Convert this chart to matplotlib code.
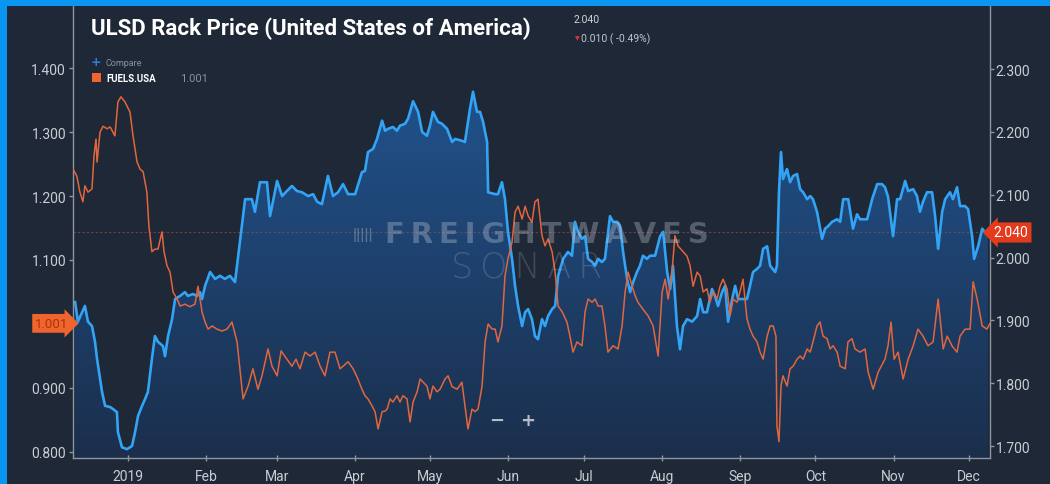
import numpy as np
import pandas as pd
import matplotlib
matplotlib.use("Agg")
import matplotlib.pyplot as plt
import matplotlib.dates as mdates
import matplotlib.transforms as mtransforms
from matplotlib.colors import LinearSegmentedColormap
from matplotlib.patches import Rectangle

# --- Data (day offsets from 2019-01-01) ---
blue_day = [-21.0, -19.9, -17.1, -15.9, -14.3, -13.1, -12.3, -11.1, -10.3, -9.1,
            -7.1, -6.0, -4.4, -4.0, -2.4, -0.4, 1.6, 2.8, 4.0, 5.6,
            6.8, 7.9, 9.5, 10.7, 11.9, 13.9, 14.7, 15.9, 17.5, 18.7,
            20.7, 22.6, 23.8, 25.8, 27.4, 28.6, 29.4, 30.6, 32.6, 34.6,
            36.5, 38.5, 40.5, 42.5, 46.5, 49.2, 50.4, 52.4, 55.2, 56.4,
            59.2, 61.2, 63.1, 65.1, 67.1, 69.1, 71.5, 73.5, 75.1, 77.0,
            79.4, 81.4, 83.4, 85.4, 87.4, 90.2, 92.9, 94.1, 95.3, 97.3,
            98.9, 100.9, 102.1, 103.3, 105.2, 106.8, 108.0, 110.0, 111.2, 113.2,
            115.2, 116.8, 118.7, 119.9, 121.1, 123.1, 124.7, 126.7, 128.7, 129.9,
            132.6, 133.8, 135.8, 137.0, 138.6, 139.8, 141.0, 142.6, 143.0, 145.8,
            146.9, 148.5, 149.7, 150.9, 152.5, 153.7, 154.9, 156.5, 157.7, 158.9,
            160.4, 161.6, 162.8, 164.4, 165.6, 166.8, 168.4, 169.6, 170.8, 172.8,
            174.7, 176.3, 177.5, 178.7, 180.3, 181.5, 182.7, 184.3, 185.5, 186.7,
            188.2, 189.4, 191.4, 192.6, 194.2, 195.4, 196.6, 198.2, 199.4, 200.6,
            202.1, 203.3, 204.5, 206.1, 207.3, 209.3, 211.3, 212.5, 214.1, 215.3,
            216.4, 218.0, 219.2, 220.4, 222.0, 224.0, 226.0, 227.2, 228.4, 229.9,
            231.9, 233.1, 234.3, 235.9, 237.1, 238.3, 239.9, 241.1, 242.3, 245.8,
            247.0, 248.2, 249.8, 251.0, 252.2, 253.8, 255.0, 257.0, 257.7, 258.5,
            259.3, 260.1, 261.7, 262.9, 264.1, 265.7, 266.9, 268.1, 269.7, 270.9,
            272.0, 273.6, 275.6, 276.8, 278.0, 279.6, 281.6, 282.8, 284.0, 286.0,
            287.9, 289.5, 290.7, 293.5, 295.5, 297.5, 299.4, 300.6, 301.8, 303.8,
            305.4, 306.6, 308.6, 309.8, 311.8, 313.3, 314.5, 315.7, 317.3, 319.3,
            320.5, 321.7, 323.3, 324.5, 326.4, 327.6, 329.2, 330.4, 332.4, 333.6,
            335.2, 336.0, 337.6, 339.2, 340.4, 341.5]
blue_val = [1.929, 1.898, 1.923, 1.898, 1.891, 1.866, 1.839, 1.807, 1.786, 1.764,
            1.762, 1.759, 1.754, 1.722, 1.698, 1.695, 1.700, 1.722, 1.748, 1.764,
            1.775, 1.786, 1.839, 1.875, 1.866, 1.859, 1.843, 1.875, 1.902, 1.934,
            1.939, 1.945, 1.939, 1.942, 1.939, 1.945, 1.934, 1.955, 1.977, 1.966,
            1.971, 1.966, 1.971, 1.961, 2.093, 2.093, 2.073, 2.120, 2.120, 2.066,
            2.122, 2.098, 2.106, 2.114, 2.106, 2.104, 2.098, 2.101, 2.089, 2.085,
            2.130, 2.098, 2.104, 2.117, 2.101, 2.101, 2.136, 2.138, 2.168, 2.173,
            2.189, 2.218, 2.202, 2.205, 2.208, 2.202, 2.210, 2.213, 2.221, 2.249,
            2.232, 2.200, 2.194, 2.210, 2.232, 2.216, 2.213, 2.205, 2.184, 2.189,
            2.186, 2.184, 2.237, 2.264, 2.232, 2.232, 2.216, 2.184, 2.104, 2.101,
            2.101, 2.120, 2.093, 2.041, 1.998, 1.955, 1.923, 1.891, 1.913, 1.918,
            1.902, 1.875, 1.870, 1.902, 1.891, 1.907, 1.918, 1.923, 1.971, 1.998,
            2.009, 2.003, 2.057, 2.041, 2.030, 2.034, 1.998, 1.993, 1.987, 1.998,
            1.993, 1.998, 2.066, 2.057, 2.057, 2.050, 2.009, 1.966, 1.945, 1.961,
            1.977, 1.987, 2.003, 1.998, 2.003, 2.003, 2.034, 2.041, 1.977, 1.950,
            1.987, 1.891, 1.854, 1.891, 1.902, 1.898, 1.907, 1.934, 1.913, 1.913,
            1.950, 1.939, 1.923, 1.945, 1.955, 1.898, 1.934, 1.955, 1.934, 1.934,
            1.955, 1.977, 1.982, 1.987, 2.014, 2.018, 1.987, 1.977, 1.987, 2.104,
            2.168, 2.125, 2.141, 2.120, 2.130, 2.133, 2.109, 2.104, 2.093, 2.098,
            2.093, 2.073, 2.030, 2.046, 2.050, 2.057, 2.061, 2.057, 2.093, 2.093,
            2.046, 2.069, 2.061, 2.061, 2.093, 2.117, 2.117, 2.112, 2.097, 2.034,
            2.093, 2.093, 2.122, 2.106, 2.109, 2.098, 2.073, 2.089, 2.104, 2.104,
            2.066, 2.014, 2.073, 2.093, 2.104, 2.093, 2.112, 2.082, 2.082, 2.077,
            2.034, 1.998, 2.018, 2.046, 2.040, 2.040]

orange_day = [-21.8, -20.3, -19.1, -17.9, -17.1, -15.9, -14.3, -13.5, -12.7, -12.3,
              -11.1, -9.9, -8.3, -7.1, -5.2, -4.0, -2.8, -1.2, 0.8, 2.0,
              3.6, 4.8, 6.0, 7.5, 8.3, 9.5, 10.7, 11.9, 13.5, 14.3,
              15.5, 16.7, 17.9, 19.5, 20.7, 22.6, 24.6, 26.6, 27.8, 29.4,
              30.6, 31.8, 33.4, 35.3, 37.3, 39.3, 41.3, 43.3, 45.7, 47.7,
              49.6, 51.6, 53.2, 55.6, 57.2, 59.2, 60.8, 63.1, 65.1, 66.7,
              68.3, 70.3, 72.3, 74.3, 76.3, 78.2, 80.2, 82.2, 84.2, 85.4,
              87.4, 89.4, 91.3, 92.9, 94.1, 95.3, 96.9, 98.1, 99.3, 100.9,
              102.1, 102.9, 104.1, 105.2, 106.8, 108.0, 109.2, 110.8, 112.0, 113.2,
              114.8, 116.0, 117.2, 118.7, 119.9, 121.1, 122.7, 123.9, 125.9, 127.1,
              128.7, 130.7, 132.6, 133.8, 135.0, 136.6, 137.8, 139.0, 140.6, 141.8,
              143.0, 144.6, 145.8, 146.9, 148.5, 149.7, 150.9, 152.5, 153.7, 154.9,
              156.5, 157.7, 158.9, 160.4, 161.6, 162.8, 164.4, 165.6, 166.8, 168.4,
              169.6, 170.8, 172.4, 174.3, 175.5, 176.7, 178.3, 180.3, 181.5, 182.7,
              184.3, 185.5, 186.7, 188.2, 189.4, 190.6, 192.6, 194.6, 196.2, 197.4,
              198.6, 200.2, 201.4, 202.5, 204.5, 206.5, 208.5, 210.5, 212.1, 213.3,
              214.5, 216.0, 217.2, 218.4, 220.4, 222.0, 223.2, 224.4, 226.0, 227.2,
              228.4, 229.9, 231.1, 232.3, 233.9, 235.1, 236.3, 237.9, 239.1, 240.3,
              241.9, 243.0, 244.2, 245.8, 247.0, 248.2, 249.8, 251.0, 252.2, 253.8,
              255.0, 256.2, 257.3, 257.7, 258.5, 259.3, 260.1, 261.7, 262.9, 264.1,
              265.7, 266.9, 268.1, 269.7, 270.9, 272.0, 273.6, 274.8, 276.0, 277.6,
              278.8, 280.0, 281.6, 282.8, 284.8, 285.9, 287.5, 288.7, 290.7, 292.7,
              293.9, 295.9, 297.9, 300.6, 301.8, 303.0, 304.2, 305.8, 307.8, 309.8,
              311.8, 313.7, 315.7, 317.7, 319.7, 321.7, 323.7, 325.3, 327.2, 329.2,
              330.4, 332.4, 334.4, 335.6, 337.2, 339.2, 341.1, 342.3]
orange_val = [1.242, 1.231, 1.206, 1.191, 1.216, 1.206, 1.211, 1.263, 1.289, 1.253,
              1.300, 1.309, 1.305, 1.308, 1.294, 1.347, 1.355, 1.347, 1.331, 1.294,
              1.253, 1.242, 1.238, 1.206, 1.153, 1.113, 1.117, 1.117, 1.144, 1.113,
              1.091, 1.081, 1.050, 1.039, 1.028, 1.031, 1.027, 1.031, 1.059, 1.019,
              1.003, 0.992, 0.997, 0.992, 0.989, 0.992, 1.003, 0.972, 0.883, 0.903,
              0.930, 0.898, 0.919, 0.961, 0.934, 0.919, 0.958, 0.945, 0.934, 0.945,
              0.930, 0.956, 0.950, 0.956, 0.934, 0.919, 0.956, 0.956, 0.930, 0.934,
              0.941, 0.930, 0.914, 0.898, 0.888, 0.883, 0.872, 0.863, 0.836, 0.863,
              0.864, 0.867, 0.883, 0.878, 0.888, 0.878, 0.888, 0.883, 0.847, 0.878,
              0.894, 0.914, 0.909, 0.903, 0.883, 0.903, 0.894, 0.898, 0.914, 0.919,
              0.902, 0.898, 0.909, 0.872, 0.836, 0.867, 0.863, 0.867, 0.903, 0.972,
              1.000, 0.992, 0.992, 0.972, 0.997, 1.075, 1.102, 1.128, 1.175, 1.184,
              1.164, 1.184, 1.169, 1.159, 1.191, 1.195, 1.138, 1.122, 1.133, 1.113,
              1.081, 1.028, 1.019, 1.003, 0.981, 0.956, 0.972, 0.966, 1.019, 1.039,
              1.034, 1.039, 1.028, 1.028, 0.997, 0.956, 0.966, 0.961, 0.997, 1.050,
              1.081, 1.059, 1.044, 1.034, 1.023, 1.013, 0.997, 0.950, 1.050, 1.070,
              1.039, 1.081, 1.138, 1.122, 1.113, 1.106, 1.091, 1.059, 1.081, 1.075,
              1.050, 1.055, 1.034, 1.050, 1.039, 1.059, 1.070, 1.055, 1.013, 1.039,
              1.034, 1.050, 1.070, 1.008, 0.992, 0.981, 0.972, 0.956, 0.945, 0.981,
              0.997, 0.997, 0.981, 0.841, 0.816, 0.903, 0.919, 0.903, 0.930, 0.934,
              0.945, 0.950, 0.945, 0.961, 0.956, 0.972, 0.997, 1.003, 0.981, 0.977,
              0.961, 0.966, 0.956, 0.934, 0.930, 0.972, 0.977, 0.961, 0.956, 0.961,
              0.925, 0.898, 0.925, 0.945, 0.966, 1.003, 0.945, 0.956, 0.914, 0.945,
              0.966, 0.992, 0.981, 0.966, 0.972, 1.039, 0.961, 0.981, 0.966, 0.956,
              0.981, 0.992, 0.992, 1.066, 1.039, 0.997, 0.992, 1.001]

month_ticks = ["2019-01-01", "2019-02-01", "2019-03-01", "2019-04-01", "2019-05-01", "2019-06-01",
               "2019-07-01", "2019-08-01", "2019-09-01", "2019-10-01", "2019-11-01", "2019-12-01"]
month_labels = ["2019", "Feb", "Mar", "Apr", "May", "Jun", "Jul", "Aug", "Sep", "Oct", "Nov", "Dec"]
left_ticks = [0.8, 0.9, 1.0, 1.1, 1.2, 1.3, 1.4]
right_ticks = [1.7, 1.8, 1.9, 2.0, 2.1, 2.2, 2.3]
last_blue = 2.040
last_orange = 1.001

start = pd.Timestamp("2019-01-01")
blue_dates = start + pd.to_timedelta(blue_day, unit="D")
orange_dates = start + pd.to_timedelta(orange_day, unit="D")
x_lo = start + pd.Timedelta(days=-21.84)
x_hi = start + pd.Timedelta(days=342.3)

# --- Style ---
plt.rcParams['font.family'] = ['Roboto', 'DejaVu Sans']
BG = "#1e2836"
GRID = "#8c96a3"
TXT = "#c9ced5"

W, H = 1050, 485
fig = plt.figure(figsize=(10.5, 4.85), dpi=100, facecolor=BG)


def fx(px):
    return px / W


def fy(py):
    return 1 - py / H


ax = fig.add_axes([fx(73), fy(459), fx(990 - 73), (459 - 7) / H])
ax2 = ax.twinx()
ax.set_zorder(2)
ax.patch.set_visible(False)
ax2.set_zorder(1)
ax2.set_facecolor(BG)
ax2.patch.set_visible(True)

ax.set_ylim(0.7906, 1.4969)
ax2.set_ylim(1.6809, 2.4006)
ax.set_xlim(x_lo, x_hi)

# gradient area under the ULSD line
cmap = LinearSegmentedColormap.from_list("fill", ["#1b2f4c", "#20528c"])
grad = np.linspace(0, 1, 256).reshape(-1, 1)
im = ax2.imshow(grad, cmap=cmap, origin="lower", aspect="auto",
                extent=[mdates.date2num(x_lo), mdates.date2num(x_hi), 1.6809, 2.27],
                zorder=1)
poly = ax2.fill_between(blue_dates, blue_val, 1.6809, color="none", lw=0)
im.set_clip_path(poly.get_paths()[0], transform=ax2.transData)
ax2.set_xlim(x_lo, x_hi)
ax2.set_ylim(1.6809, 2.4006)

ax2.axhline(last_blue, color="#9a4646", lw=0.8, ls=(0, (2, 2)), alpha=0.75, zorder=2)
ax2.plot(blue_dates, blue_val, color="#33a3f5", lw=1.9, zorder=3)
ax.plot(orange_dates, orange_val, color="#e2663d", lw=1.1, zorder=3)

# --- Axes styling ---
for a in (ax, ax2):
    for s in a.spines.values():
        s.set_visible(False)
ax.spines['left'].set_visible(True)
ax.spines['bottom'].set_visible(True)
ax2.spines['right'].set_visible(True)
for s in (ax.spines['left'], ax.spines['bottom'], ax2.spines['right']):
    s.set_color(GRID)
    s.set_linewidth(1.0)

# the 1.000 label sits under the price tag in the original, so it is left blank
ax.set_yticks(left_ticks)
ax.set_yticklabels(["" if abs(v - 1.0) < 1e-9 else f"{v:.3f}" for v in left_ticks])
ax2.set_yticks(right_ticks)
ax2.set_yticklabels([f"{v:.3f}" for v in right_ticks])
ax.set_xticks(pd.to_datetime(month_ticks))
ax.set_xticklabels(month_labels)
ax.tick_params(axis='y', colors=GRID, labelcolor=TXT, labelsize=10, length=3, width=1, pad=2)
ax2.tick_params(axis='y', colors=GRID, labelcolor=TXT, labelsize=10, length=3, width=1, pad=1)
ax.tick_params(axis='x', colors=GRID, labelcolor=TXT, labelsize=10, length=4, width=1,
               direction='inout', pad=6)

# price tags on the axes
blend_l = mtransforms.blended_transform_factory(ax.transAxes, ax.transData)
ax.text(-0.005, last_orange, f"{last_orange:.3f}", transform=blend_l, ha='right', va='center',
        fontsize=9.5, color="#a8350c", zorder=10, clip_on=False,
        bbox=dict(boxstyle="rarrow,pad=0.22", fc="#f0652d", ec="none"))
blend_r = mtransforms.blended_transform_factory(ax2.transAxes, ax2.transData)
ax2.text(1.004, last_blue, f"{last_blue:.3f}", transform=blend_r, ha='left', va='center',
         fontsize=10, color="white", zorder=10, clip_on=False,
         bbox=dict(boxstyle="larrow,pad=0.22", fc="#e33b1c", ec="none"))

# --- Watermark and zoom buttons ---
fig.text(fx(363), fy(235), "|||||", fontsize=12, fontweight='bold', color="#c8d0dc", alpha=0.35,
         ha='center', va='center')
fig.text(fx(547), fy(235), "\u2009".join("FREIGHTWAVES"), fontsize=21, fontweight='bold',
         color="#c8d0dc", alpha=0.33, ha='center', va='center', family='DejaVu Sans')
fig.text(fx(527), fy(268), "\u2009".join("SONAR"), fontsize=25, fontweight='light',
         color="#c8d0dc", alpha=0.2, ha='center', va='center', family='DejaVu Sans')
fig.text(fx(497), fy(421), "\u2212", fontsize=13, fontweight='bold', color="#b5bcc6",
         ha='center', va='center', family='DejaVu Sans')
fig.text(fx(528), fy(421), "+", fontsize=13, fontweight='bold', color="#b5bcc6",
         ha='center', va='center', family='DejaVu Sans')

# --- Title / header ---
fig.text(fx(91), fy(29), "ULSD Rack Price (United States of America)", fontsize=16,
         fontweight='bold', color="white", ha='left', va='center',
         family=['Roboto', 'DejaVu Sans'])
fig.text(fx(574), fy(20), "2.040", fontsize=7.5, color="#d0d4da", ha='left', va='center')
fig.text(fx(577), fy(39), "\u25bc", fontsize=4.5, color="#e0303a", ha='center', va='center',
         family='DejaVu Sans')
fig.text(fx(581), fy(39), "0.010 ( -0.49%)", fontsize=7.5, color="#c0c6cc", ha='left', va='center')

# legend
fig.text(fx(96), fy(63), "+", fontsize=9, fontweight='bold', color="#2b7fe0", ha='center', va='center',
         family='DejaVu Sans')
fig.text(fx(105), fy(63), "Compare", fontsize=6.5, color="#8792a0", ha='left', va='center')
fig.patches.append(Rectangle((fx(92), fy(83)), fx(9), 9 / H, transform=fig.transFigure,
                             fc="#f0652d", ec="none"))
fig.text(fx(106), fy(79), "FUELS.USA", fontsize=7, fontweight='bold', color="white",
         ha='left', va='center')
fig.text(fx(180), fy(79), "1.001", fontsize=8, color="#8792a0", ha='left', va='center')

# blue frame
fig.patches.append(Rectangle((0, fy(7)), 1, 7 / H, transform=fig.transFigure,
                             fc="#0896f2", ec="none", zorder=20))
fig.patches.append(Rectangle((0, 0), fx(7), 1, transform=fig.transFigure,
                             fc="#0896f2", ec="none", zorder=20))

fig.savefig("out.png", dpi=100, facecolor=BG)
